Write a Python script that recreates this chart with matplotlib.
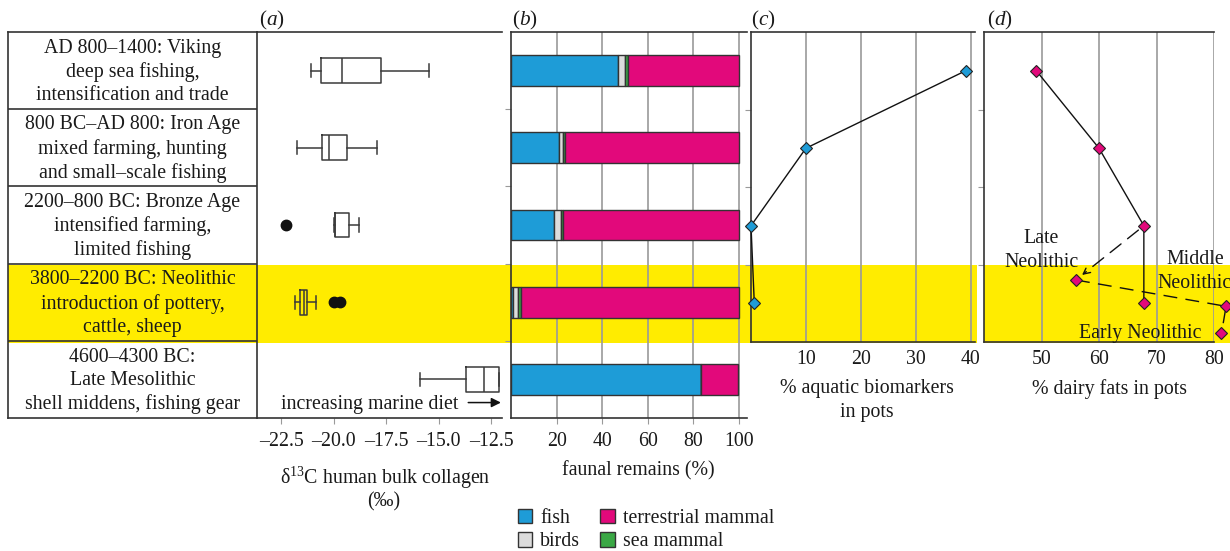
import matplotlib
matplotlib.use('Agg')
import matplotlib.pyplot as plt
from matplotlib.patches import Rectangle, Patch

plt.rcParams['font.family'] = ['Liberation Serif', 'DejaVu Serif']
plt.rcParams['mathtext.fontset'] = 'custom'
plt.rcParams['mathtext.rm'] = 'Liberation Serif'
plt.rcParams['mathtext.it'] = 'Liberation Serif:italic'

# ---------------- data ----------------
periods = [
    "AD 800\u20131400: Viking\ndeep sea fishing,\nintensification and trade",
    "800 BC\u2013AD 800: Iron Age\nmixed farming, hunting\nand small\u2013scale fishing",
    "2200\u2013800 BC: Bronze Age\nintensified farming,\nlimited fishing",
    "3800\u20132200 BC: Neolithic\nintroduction of pottery,\ncattle, sheep",
    "4600\u20134300 BC:\nLate Mesolithic\nshell middens, fishing gear",
]
rows = [0, 1, 2, 3, 4]
highlight_row = 3

# (a) d13C box summaries
whislo = [-21.08, -21.75, -19.98, -21.83, -15.87]
q1 = [-20.58, -20.56, -19.94, -21.58, -13.71]
med = [-19.60, -20.24, -19.92, -21.40, -12.86]
q3 = [-17.74, -19.38, -19.27, -21.25, -12.10]
whishi = [-15.45, -17.92, -18.81, -20.82, -12.10]
fliers = [[], [], [-22.26], [-20.0, -19.69], []]
a_ticks = [-22.5, -20.0, -17.5, -15.0, -12.5]

# (b) faunal remains (%)
fish = [46.8, 21.2, 18.7, 1.0, 83.2]
birds = [3.3, 1.5, 3.2, 2.2, 0.0]
sea_mammal = [1.1, 1.1, 1.0, 1.0, 0.0]
terrestrial = [48.8, 76.2, 77.1, 95.8, 16.5]
b_ticks = [20, 40, 60, 80, 100]

# (c) aquatic biomarkers
c_rows = [0, 1, 2, 3]
aquatic = [39.1, 10.0, 0.0, 0.6]
c_ticks = [10, 20, 30, 40]

# (d) dairy fats
d_rows = [0, 1, 2, 3]
dairy = [49.1, 60.0, 67.8, 67.8]
sub_names = ["Late\nNeolithic", "Middle\nNeolithic", "Early Neolithic"]
sub_y = [2.70, 3.04, 3.39]
sub_dairy = [56.0, 82.1, 81.3]
d_ticks = [50, 60, 70, 80]

# ---------------- style ----------------
W, H = 1230, 551
FS = 14.3
C_FISH = '#1e9cd7'
C_BIRD = '#dcdcdc'
C_SEA = '#3aa845'
C_TERR = '#e2097b'
C_YEL = '#ffec00'
C_EDGE = '#333333'
C_GRID = '#9a9a9a'
C_SPINE = '#333333'
DASH = (0, (10, 6))

fig = plt.figure(figsize=(W / 100, H / 100), dpi=100)


def rect(x0, y0, x1, y1):
    return [x0 / W, 1 - y1 / H, (x1 - x0) / W, (y1 - y0) / H]


def fx(x):
    return x / W


def fy(y):
    return 1 - y / H


# background axes holding the yellow highlight band
axbg = fig.add_axes([0, 0, 1, 1], zorder=-10)
axbg.set_xlim(0, W)
axbg.set_ylim(H, 0)
axbg.axis('off')
for x0, x1 in [(8, 977), (984, 1230)]:
    axbg.add_patch(Rectangle((x0, 265), x1 - x0, 77.5, facecolor=C_YEL,
                             edgecolor='none'))


def style_axes(ax, right=False):
    ax.set_facecolor('none')
    for s in ['top', 'left', 'bottom']:
        ax.spines[s].set_color(C_SPINE)
        ax.spines[s].set_linewidth(1.2)
    ax.spines['right'].set_visible(right)


# ---------------- table ----------------
axt = fig.add_axes(rect(8, 32, 257, 418))
axt.set_facecolor('none')
axt.set_xlim(0, 1)
axt.set_ylim(4.5, -0.5)
axt.set_xticks([])
axt.set_yticks([])
for s in axt.spines.values():
    s.set_color(C_SPINE)
    s.set_linewidth(1.2)
for r in rows[:-1]:
    axt.axhline(r + 0.5, color=C_SPINE, lw=1.2)
for r, txt in zip(rows, periods):
    axt.text(0.5, r + 0.02, txt, ha='center', va='center', fontsize=FS,
             linespacing=1.3, color='#1a1a1a')

# ---------------- (a) ----------------
axa = fig.add_axes(rect(257, 32, 502, 418))
style_axes(axa)
axa.spines['left'].set_visible(False)
axa.set_xlim(-23.65, -11.98)
axa.set_ylim(4.5, -0.5)
stats = []
for i in range(len(rows)):
    stats.append(dict(whislo=whislo[i], q1=q1[i], med=med[i], q3=q3[i],
                      whishi=whishi[i], fliers=fliers[i]))
lp = dict(color='#3a3a3a', lw=1.1)
axa.bxp(stats, positions=rows, orientation='horizontal', widths=0.32,
        capwidths=0.17, showfliers=True,
        boxprops=lp, whiskerprops=lp, capprops=lp, medianprops=lp,
        flierprops=dict(marker='o', markerfacecolor='#111111',
                        markeredgecolor='#111111', markersize=7.5))
axa.set_ylim(4.5, -0.5)
axa.set_yticks([])
axa.set_xticks(a_ticks)
axa.set_xticklabels(['\u2013' + f"{abs(t):.1f}" for t in a_ticks])
axa.tick_params(axis='x', direction='out', length=4, color=C_GRID,
                labelsize=FS, pad=6, labelcolor='#1a1a1a')
axa.text(-22.5, 4.32, "increasing marine diet", fontsize=FS, ha='left',
         va='center', color='#1a1a1a')
axa.annotate('', xy=(-11.9, 4.3), xytext=(-13.72, 4.3),
             arrowprops=dict(arrowstyle='-|>', color='#111111', lw=1.1,
                             mutation_scale=14), annotation_clip=False)

# ---------------- (b) ----------------
axb = fig.add_axes(rect(511, 32, 747, 418))
style_axes(axb)
axb.set_xlim(0, 103.5)
axb.set_ylim(4.5, -0.5)
for t in b_ticks:
    axb.axvline(t, color=C_GRID, lw=1.2, zorder=0.5)
left = [0.0] * len(rows)
for vals, col, lab in [(fish, C_FISH, 'fish'), (birds, C_BIRD, 'birds'),
                       (sea_mammal, C_SEA, 'sea mammal'),
                       (terrestrial, C_TERR, 'terrestrial mammal')]:
    axb.barh(rows, vals, left=left, height=0.4, color=col, edgecolor=C_EDGE,
             linewidth=1.0, zorder=2)
    left = [l + v for l, v in zip(left, vals)]
axb.set_yticks([0.5, 1.5, 2.5, 3.5])
axb.set_yticklabels([])
axb.tick_params(axis='y', direction='out', length=4, color=C_GRID)
axb.set_xticks(b_ticks)
axb.tick_params(axis='x', direction='out', length=4, color=C_GRID,
                labelsize=FS, pad=6, labelcolor='#1a1a1a')

# ---------------- (c) ----------------
axc = fig.add_axes(rect(751, 32, 975, 342))
style_axes(axc)
axc.set_xlim(0, 40.8)
axc.set_ylim(3.5, -0.5)
for t in c_ticks:
    axc.axvline(t, color=C_GRID, lw=1.2, zorder=0.5)
axc.plot(aquatic, c_rows, color='#111111', lw=1.0, marker='D',
         markersize=6.5, markerfacecolor=C_FISH, markeredgecolor='#222222',
         markeredgewidth=0.8, clip_on=False, zorder=3)
axc.set_yticks([0.5, 1.5, 2.5])
axc.set_yticklabels([])
axc.tick_params(axis='y', direction='out', length=4, color=C_GRID)
axc.set_xticks(c_ticks)
axc.tick_params(axis='x', direction='out', length=0, labelsize=FS, pad=6,
                labelcolor='#1a1a1a')

# ---------------- (d) ----------------
axd = fig.add_axes(rect(984, 32, 1214, 342))
style_axes(axd)
axd.set_xlim(40, 80)
axd.set_ylim(3.5, -0.5)
for t in d_ticks:
    axd.axvline(t, color=C_GRID, lw=1.2, zorder=0.5)
axd.plot(dairy, d_rows, color='#111111', lw=1.0, marker='D',
         markersize=6.5, markerfacecolor=C_TERR, markeredgecolor='#222222',
         markeredgewidth=0.8, clip_on=False, zorder=3)
axd.plot(sub_dairy, sub_y, color='#111111', lw=1.0, ls=DASH,
         marker='D', markersize=6.5, markerfacecolor=C_TERR,
         markeredgecolor='#222222', markeredgewidth=0.8, clip_on=False,
         zorder=3)
axd.annotate('', xy=(sub_dairy[0] + 0.3, sub_y[0] - 0.02),
             xytext=(dairy[2], d_rows[2]),
             arrowprops=dict(arrowstyle='->', color='#111111', lw=1.0,
                             ls=DASH, shrinkA=5, shrinkB=4,
                             mutation_scale=12), annotation_clip=False)
axd.text(50.0, 2.32, sub_names[0], ha='center', va='center', fontsize=FS,
         linespacing=1.3, color='#1a1a1a')
axd.text(76.7, 2.59, sub_names[1], ha='center', va='center', fontsize=FS,
         linespacing=1.3, color='#1a1a1a', clip_on=False)
axd.text(67.1, 3.39, sub_names[2], ha='center', va='center', fontsize=FS,
         color='#1a1a1a')
axd.set_yticks([0.5, 1.5, 2.5])
axd.set_yticklabels([])
axd.tick_params(axis='y', direction='out', length=4, color=C_GRID)
axd.set_xticks(d_ticks)
axd.tick_params(axis='x', direction='out', length=0, labelsize=FS, pad=6,
                labelcolor='#1a1a1a')

# ---------------- labels ----------------
def ftext(x, y, s, **kw):
    kw.setdefault('fontsize', FS)
    kw.setdefault('color', '#1a1a1a')
    fig.text(fx(x), fy(y), s, ha='center', va='center', **kw)


ftext(272, 20, r'($\mathit{a}$)', fontsize=FS + 1)
ftext(525, 20, r'($\mathit{b}$)', fontsize=FS + 1)
ftext(763, 20, r'($\mathit{c}$)', fontsize=FS + 1)
ftext(1000, 20, r'($\mathit{d}$)', fontsize=FS + 1)

ftext(385, 478, r'δ$^{13}$C human bulk collagen')
ftext(384, 502, '(\u2030)')
ftext(638, 471, 'faunal remains (%)')
ftext(867, 389, '% aquatic biomarkers')
ftext(867, 413, 'in pots')
ftext(1110, 389, '% dairy fats in pots')

handles = [Patch(facecolor=C_FISH, edgecolor=C_EDGE, label='fish'),
           Patch(facecolor=C_BIRD, edgecolor=C_EDGE, label='birds'),
           Patch(facecolor=C_TERR, edgecolor=C_EDGE, label='terrestrial mammal'),
           Patch(facecolor=C_SEA, edgecolor=C_EDGE, label='sea mammal')]
leg = fig.legend(handles=handles, ncol=2, loc='center',
                 bbox_to_anchor=(fx(646), fy(530)), frameon=False,
                 fontsize=FS, handlelength=0.75, handleheight=0.75,
                 handletextpad=0.4, columnspacing=1.0, labelspacing=0.2,
                 borderpad=0)
for t in leg.get_texts():
    t.set_color('#1a1a1a')

fig.savefig('out.png', dpi=100)
